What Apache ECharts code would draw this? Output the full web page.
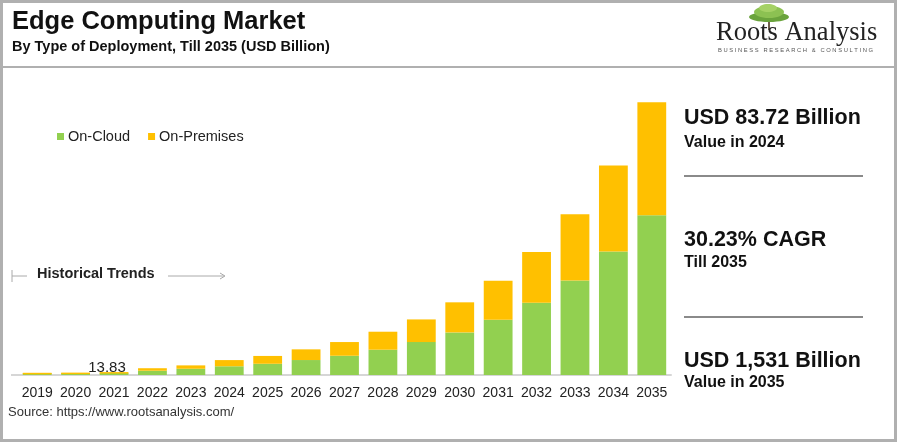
<!DOCTYPE html>
<html>
<head>
<meta charset="utf-8">
<script src="https://cdn.jsdelivr.net/npm/echarts@6/dist/echarts.min.js"></script>
<style>
html,body{margin:0;padding:0;background:#fff;}
#c{width:900px;height:446px;}
</style>
</head>
<body>
<div id="c"></div>
<script>
const years = ['2019','2020','2021','2022','2023','2024','2025','2026','2027','2028','2029','2030','2031','2032','2033','2034','2035'];
const onCloud = [4, 5, 8, 24, 35, 49, 63, 84, 108, 142, 185, 239, 310, 405, 531, 694, 897];
const onPremises = [1, 4, 5.83, 14, 19, 34.72, 44, 60, 77, 101, 127, 169, 219, 286, 372, 482, 634];
const totalLabelYear = '2021';
const totalLabelText = '13.83';

const chart = echarts.init(document.getElementById('c'));
const FONT = '"Liberation Sans", Arial, sans-serif';

const labelIdx = years.indexOf(totalLabelYear);

function txt(x, y, text, font, fill) {
  return {type: 'text', x: x, y: y, style: {text: text, font: font, fill: fill || '#111', verticalAlign: 'middle', align: 'left'}};
}

chart.setOption({
  backgroundColor: '#fff',
  animation: false,
  textStyle: {fontFamily: FONT},
  legend: {
    left: 52, top: 124,
    itemWidth: 7, itemHeight: 7, itemGap: 18,
    icon: 'rect',
    textStyle: {fontSize: 14.5, color: '#222', fontFamily: FONT, padding: [0,0,0,-1]},
    data: ['On-Cloud', 'On-Premises']
  },
  grid: {left: 18, right: 229, top: 90, bottom: 71},
  xAxis: {
    type: 'category', data: years,
    axisLine: {show: true, lineStyle: {color: '#d6d6d6', width: 2}},
    axisTick: {show: false},
    axisLabel: {color: '#222', fontSize: 14, margin: 11, fontFamily: FONT, interval: 0}
  },
  yAxis: {type: 'value', min: 0, max: 1600, show: false, splitLine: {show: false}},
  series: [
    {
      name: 'On-Cloud', type: 'bar', stack: 't', data: onCloud, barWidth: '75%', barMinHeight: 2,
      itemStyle: {color: '#92D050'}
    },
    {
      name: 'On-Premises', type: 'bar', stack: 't', barMinHeight: 1.5,
      data: onPremises.map((v, i) => i === labelIdx ? {value: v, label: {show: true, formatter: totalLabelText, position: 'top', distance: 1, offset: [-7, 4], color: '#222', fontSize: 15, fontFamily: FONT}} : v),
      barWidth: '75%',
      itemStyle: {color: '#FFC000'}
    }
  ],
  graphic: [
    // outer frame
    {type: 'rect', shape: {x: 1.5, y: 1.5, width: 894, height: 439}, style: {fill: 'none', stroke: '#b0b0b0', lineWidth: 3}, silent: true},
    // header separator
    {type: 'line', shape: {x1: 2, y1: 67, x2: 895, y2: 67}, style: {stroke: '#b0b0b0', lineWidth: 2}},
    // axis line extension to left
    {type: 'line', shape: {x1: 11, y1: 375, x2: 19, y2: 375}, style: {stroke: '#d6d6d6', lineWidth: 2}},
    // title
    txt(12, 22, 'Edge Computing Market', 'bold 25.5px ' + FONT),
    txt(12, 47, 'By Type of Deployment, Till 2035 (USD Billion)', 'bold 14.5px ' + FONT),
    // logo tree
    {type: 'rect', shape: {x: 768, y: 16, width: 2, height: 14}, style: {fill: '#6d5d4b'}},
    {type: 'ellipse', shape: {cx: 769, cy: 17, rx: 20, ry: 5}, style: {fill: '#6aa33c'}},
    {type: 'ellipse', shape: {cx: 769, cy: 12, rx: 15, ry: 6}, style: {fill: '#8cc152'}},
    {type: 'ellipse', shape: {cx: 768, cy: 8, rx: 9, ry: 4}, style: {fill: '#a5d165'}},
    txt(716, 33, 'Roots Analysis', '26.5px "Liberation Serif", "DejaVu Serif", serif', '#222'),
    txt(718, 50, 'B U S I N E S S   R E S E A R C H   &   C O N S U L T I N G', '5.8px ' + FONT, '#555'),
    // historical trends
    {type: 'line', shape: {x1: 12, y1: 270, x2: 12, y2: 282}, style: {stroke: '#aaa', lineWidth: 1}},
    {type: 'line', shape: {x1: 12, y1: 276, x2: 27, y2: 276}, style: {stroke: '#aaa', lineWidth: 1}},
    txt(37, 274, 'Historical Trends', 'bold 14.5px ' + FONT, '#222'),
    {type: 'line', shape: {x1: 168, y1: 276, x2: 224, y2: 276}, style: {stroke: '#aaa', lineWidth: 1}},
    {type: 'polyline', shape: {points: [[220, 273], [225, 276], [220, 279]]}, style: {stroke: '#aaa', lineWidth: 1, fill: 'none'}},
    // right panel
    txt(684, 118, 'USD 83.72 Billion', 'bold 21.5px ' + FONT),
    txt(684, 143, 'Value in 2024', 'bold 16px ' + FONT),
    {type: 'line', shape: {x1: 684, y1: 176, x2: 863, y2: 176}, style: {stroke: '#8a8a8a', lineWidth: 2}},
    txt(684, 240, '30.23% CAGR', 'bold 21.5px ' + FONT),
    txt(684, 263, 'Till 2035', 'bold 16px ' + FONT),
    {type: 'line', shape: {x1: 684, y1: 317, x2: 863, y2: 317}, style: {stroke: '#8a8a8a', lineWidth: 2}},
    txt(684, 361, 'USD 1,531 Billion', 'bold 21.5px ' + FONT),
    txt(684, 383, 'Value in 2035', 'bold 16px ' + FONT),
    // source
    txt(8, 412, 'Source: https://www.rootsanalysis.com/', '13px ' + FONT, '#333')
  ]
});
</script>
</body>
</html>
